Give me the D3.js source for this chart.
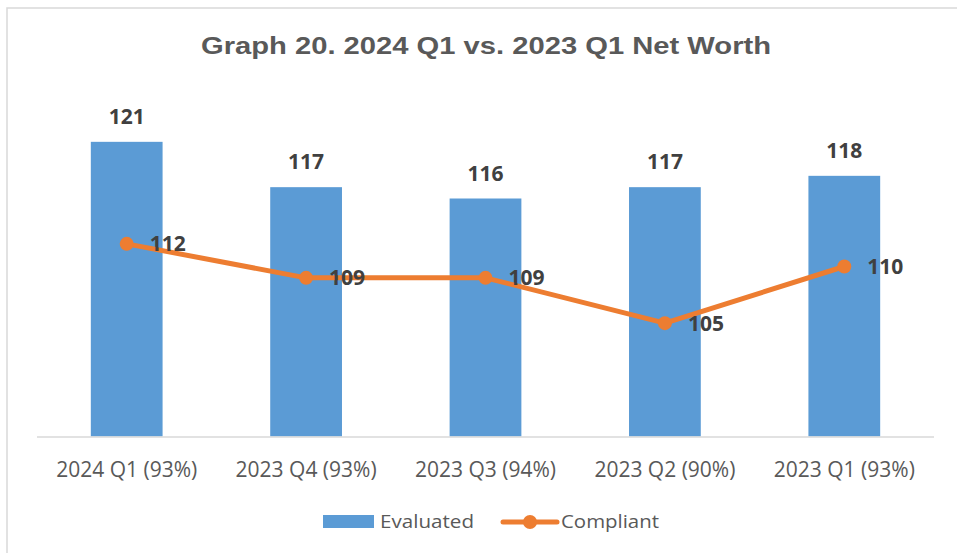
<!DOCTYPE html>
<html><head><meta charset="utf-8">
<script src="https://cdn.jsdelivr.net/npm/d3@7"></script>
<style>body{margin:0;background:#fff}svg{display:block}</style>
</head><body>
<svg id="c" width="957" height="553"></svg>
<script>
const categories = ["2024 Q1 (93%)","2023 Q4 (93%)","2023 Q3 (94%)","2023 Q2 (90%)","2023 Q1 (93%)"];
const evaluated = [121,117,116,117,118];
const compliant = [112,109,109,105,110];
const seriesNames = ["Evaluated","Compliant"];
const titleText = "Graph 20. 2024 Q1 vs. 2023 Q1 Net Worth";

const svg = d3.select("#c");
const blue = "#5b9bd5", orange = "#ed7d31";
const labelFont = "'Open Sans', Lato, sans-serif";

svg.append("rect").attr("x",7).attr("y",8).attr("width",1000).attr("height",600)
  .attr("fill","#fff").attr("stroke","#d9d9d9").attr("stroke-width",1.5);

svg.append("text").attr("x",486).attr("y",53.5).attr("text-anchor","middle")
  .attr("font-family","'Liberation Sans', Arial, sans-serif").attr("font-weight","bold")
  .attr("font-size",24.5).attr("fill","#595959")
  .attr("textLength",570).attr("lengthAdjust","spacingAndGlyphs").text(titleText);

const x = d3.scaleBand().domain(categories).range([37,934]).paddingInner(0.6).paddingOuter(0.3);
const y = d3.scaleLinear().domain([95,125]).range([436.5,96.5]);

svg.append("g").selectAll("rect").data(evaluated).join("rect")
  .attr("x",(d,i)=>x(categories[i])).attr("width",x.bandwidth())
  .attr("y",d=>y(d)).attr("height",d=>y(95)-y(d)).attr("fill",blue);

svg.append("line").attr("x1",37).attr("x2",934).attr("y1",437).attr("y2",437)
  .attr("stroke","#d9d9d9").attr("stroke-width",1.5);

const xa = svg.append("g").attr("transform","translate(0,437)")
  .call(d3.axisBottom(x).tickSize(0));
xa.select(".domain").remove();
xa.selectAll("text").attr("y",40).attr("dy",null).attr("font-family",labelFont)
  .attr("font-size",21).attr("fill","#595959");

const cx = i => x(categories[i]) + x.bandwidth()/2;

svg.append("g").selectAll("text").data(evaluated).join("text")
  .attr("x",(d,i)=>cx(i)).attr("y",d=>y(d)-18).attr("text-anchor","middle")
  .attr("font-family",labelFont).attr("font-weight","bold").attr("font-size",21)
  .attr("fill","#404040").text(d=>d);

const line = d3.line().x((d,i)=>cx(i)).y(d=>y(d));
svg.append("path").datum(compliant).attr("d",line).attr("fill","none")
  .attr("stroke",orange).attr("stroke-width",5).attr("stroke-linejoin","round");
svg.append("g").selectAll("circle").data(compliant).join("circle")
  .attr("cx",(d,i)=>cx(i)).attr("cy",d=>y(d)).attr("r",7).attr("fill",orange);

svg.append("g").selectAll("text").data(compliant).join("text")
  .attr("x",(d,i)=>cx(i)+23).attr("y",d=>y(d)+7.5)
  .attr("font-family",labelFont).attr("font-weight","bold").attr("font-size",21)
  .attr("fill","#404040").text(d=>d);

// legend
const lg = svg.append("g");
lg.append("rect").attr("x",323).attr("y",515).attr("width",51).attr("height",13).attr("fill",blue);
lg.append("text").attr("x",380).attr("y",528).attr("font-family",labelFont)
  .attr("font-size",19).attr("fill","#595959")
  .attr("textLength",94).attr("lengthAdjust","spacingAndGlyphs").text(seriesNames[0]);
lg.append("line").attr("x1",503).attr("x2",557).attr("y1",522).attr("y2",522)
  .attr("stroke",orange).attr("stroke-width",5).attr("stroke-linecap","round");
lg.append("circle").attr("cx",530).attr("cy",522).attr("r",7).attr("fill",orange);
lg.append("text").attr("x",561).attr("y",528).attr("font-family",labelFont)
  .attr("font-size",19).attr("fill","#595959")
  .attr("textLength",98).attr("lengthAdjust","spacingAndGlyphs").text(seriesNames[1]);
</script>
</body></html>
